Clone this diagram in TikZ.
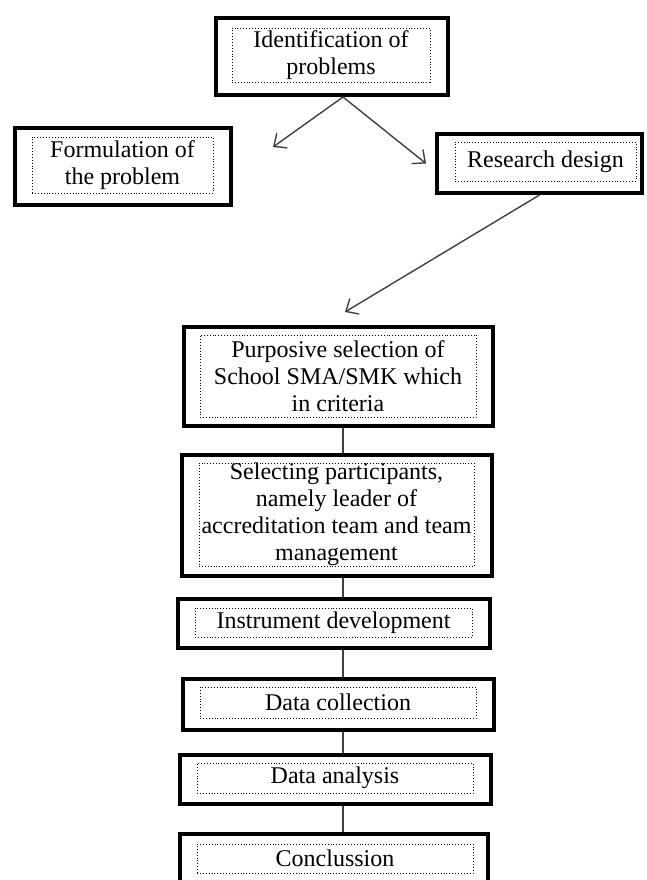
\documentclass[tikz,border=0pt]{standalone}
\usepackage{fontspec}
\setmainfont{Liberation Serif}
\usetikzlibrary{arrows.meta}

\begin{document}
\begin{tikzpicture}[x=1pt,y=-1pt,
  >={Straight Barb[length=10pt,width=18pt]},
  outerbox/.style={draw,line width=4pt,inner sep=0pt},
  textbox/.style={draw,dotted,line width=0.9pt,inner sep=0pt,align=center,
    font=\fontsize{24}{27}\selectfont},
  conn/.style={line width=1.4pt,draw=black!75}]
\useasboundingbox[fill=white] (0,0) rectangle (646,880);
\coordinate (spine) at (343,0);
\coordinate (fp) at (273,147);
\coordinate (pp) at (345,312);

\node[outerbox,minimum width=232pt,minimum height=77pt] (ident) at (332,56.5) {};
\node[textbox,minimum width=198pt,minimum height=54pt] (ident-t) at (331,55) {Identification of\\problems};
\node[outerbox,minimum width=216pt,minimum height=77pt] (form) at (123,166.5) {};
\node[textbox,minimum width=181pt,minimum height=56pt] (form-t) at (122.5,165) {Formulation of\\the problem};
\node[outerbox,minimum width=205pt,minimum height=59pt] (res) at (539.5,163.5) {};
\node[textbox,minimum width=181pt,minimum height=39pt] (res-t) at (545.5,161.5) {Research design};

\node[outerbox,minimum width=309pt,minimum height=99pt] (purp) at (338.5,376.5) {};
\node[textbox,minimum width=276pt,minimum height=82pt] (purp-t) at (338,376) {Purposive selection of\\School SMA/SMK which\\in criteria};
\node[outerbox,minimum width=310pt,minimum height=121pt] (sel) at (337,515.5) {};
\node[textbox,minimum width=275pt,minimum height=103pt] (sel-t) at (336.5,514.5) {Selecting participants,\\namely leader of\\accreditation team and team\\management};
\node[outerbox,minimum width=312pt,minimum height=49pt] (instr) at (334,623.5) {};
\node[textbox,minimum width=277pt,minimum height=29pt] (instr-t) at (333.5,622.5) {Instrument development};
\node[outerbox,minimum width=311pt,minimum height=51pt] (coll) at (338.5,704.5) {};
\node[textbox,minimum width=276pt,minimum height=31pt] (coll-t) at (338,702.5) {Data collection};
\node[outerbox,minimum width=311pt,minimum height=49pt] (anal) at (335.5,779.5) {};
\node[textbox,minimum width=276pt,minimum height=30pt] (anal-t) at (335,778) {Data analysis};
\node[outerbox,minimum width=308pt,minimum height=49pt] (concl) at (334,858.5) {};
\node[textbox,minimum width=276pt,minimum height=29pt] (concl-t) at (335,858.5) {Conclussion};

\draw[conn,->] (ident.south -| spine) -- (fp);
\draw[conn,->] (ident.south -| spine) -- ([xshift=-9pt]res.west);
\draw[conn,->] (res.south) -- (pp);
\foreach \a/\b in {purp/sel,sel/instr,instr/coll,coll/anal,anal/concl}
  \draw[conn] (\a.south -| spine) -- (\b.north -| spine);
\end{tikzpicture}
\end{document}
